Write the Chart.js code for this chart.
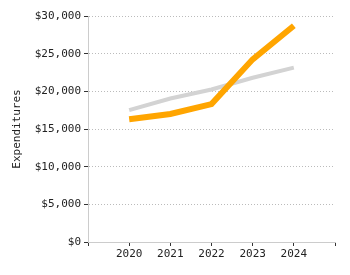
<!DOCTYPE html>
<html>
<head>
<meta charset="utf-8">
<script src="https://cdn.jsdelivr.net/npm/chart.js@4/dist/chart.umd.min.js"></script>
<style>
  html, body { margin: 0; padding: 0; background: #fff; }
  #wrap { width: 350px; height: 275px; position: relative; }
</style>
</head>
<body>
<div id="wrap"><canvas id="c" width="350" height="275"></canvas></div>
<script>
const years = [2020, 2021, 2022, 2023, 2024];
const orangeSeries = [16300, 17000, 18300, 24250, 28700];
const graySeries = [17500, 19050, 20250, 21800, 23150];
const yTicks = [0, 5000, 10000, 15000, 20000, 25000, 30000];
const yTitle = 'Expenditures';

const font = { family: '"DejaVu Sans Mono", monospace', size: 11 };

new Chart(document.getElementById('c'), {
  type: 'line',
  data: {
    datasets: [
      {
        data: years.map((y, i) => ({ x: y, y: orangeSeries[i] })),
        borderColor: '#FFA500',
        borderWidth: 6,
        pointRadius: 0,
        tension: 0,
        fill: false
      },
      {
        data: years.map((y, i) => ({ x: y, y: graySeries[i] })),
        borderColor: '#D3D3D3',
        borderWidth: 4,
        pointRadius: 0,
        tension: 0,
        fill: false
      }
    ]
  },
  options: {
    responsive: false,
    animation: false,
    devicePixelRatio: 1,
    layout: { padding: { top: 16, right: 15, left: 11, bottom: 0 } },
    plugins: { legend: { display: false }, tooltip: { enabled: false } },
    scales: {
      x: {
        type: 'linear',
        min: years[0] - 1,
        max: years[years.length - 1] + 1,
        afterFit: s => { s.height = 33; },
        afterBuildTicks: s => { s.ticks = []; for (let v = s.min; v <= s.max; v++) s.ticks.push({ value: v }); },
        ticks: {
          font: font,
          color: '#222',
          autoSkip: false,
          maxRotation: 0,
          padding: 2,
          callback: v => years.includes(v) ? String(v) : ''
        },
        grid: { drawOnChartArea: false, tickLength: 4, tickColor: '#333' },
        border: { color: '#ccc', width: 1 }
      },
      y: {
        min: 0,
        max: 30000,
        afterFit: s => { s.width = 77; },
        afterBuildTicks: s => { s.ticks = yTicks.map(v => ({ value: v })); },
        ticks: {
          font: font,
          color: '#222',
          padding: 3,
          callback: v => '$' + v.toLocaleString('en-US')
        },
        title: { display: true, text: yTitle, font: font, color: '#222', padding: 0 },
        grid: { color: '#bbb', tickLength: 4, tickColor: '#333', tickBorderDash: [] },
        border: { color: '#ccc', width: 1, dash: [1, 2] }
      }
    }
  }
});
</script>
</body>
</html>
